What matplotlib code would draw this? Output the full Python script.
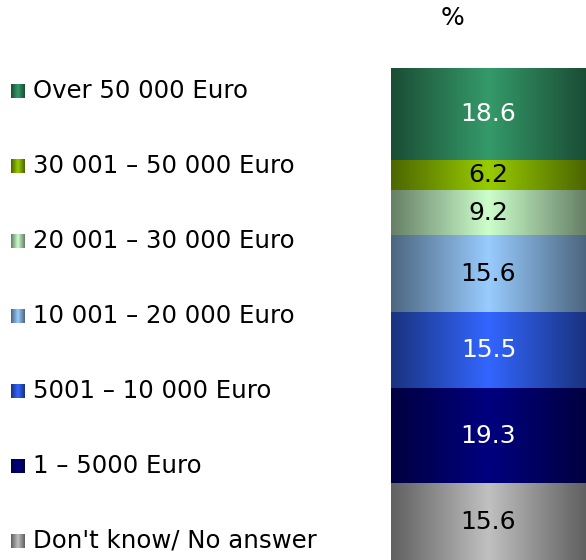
import numpy as np
import matplotlib.pyplot as plt

# income brackets, bottom of the stack first
categories = ["Don't know/ No answer", "1 \u2013 5000 Euro", "5001 \u2013 10 000 Euro",
              "10 001 \u2013 20 000 Euro", "20 001 \u2013 30 000 Euro",
              "30 001 \u2013 50 000 Euro", "Over 50 000 Euro"]
values = [15.6, 19.3, 15.5, 15.6, 9.2, 6.2, 18.6]
colors = ["#c0c0c0", "#000080", "#3366ff", "#99ccff", "#ccffcc", "#99cc00", "#359a6a"]
label_colors = ["black", "white", "white", "black", "black", "black", "white"]

W, H = 586, 560
plt.rcParams['font.family'] = ['DejaVu Sans']
fig = plt.figure(figsize=(W / 100, H / 100), dpi=100)


def gradient(color, n=256):
    """Horizontal strip: half-intensity at the edges, full colour in the middle."""
    c = np.array(plt.matplotlib.colors.to_rgb(color))
    t = np.abs(np.linspace(-1, 1, n))
    f = 1 - 0.5 * t
    return (f[:, None] * c[None, :])[None, :, :]


# the stacked bar
ax = fig.add_axes([391 / W, 0, 195 / W, 492 / H])
ax.set_xlim(0, 1)
ax.set_ylim(0, 100)
ax.axis('off')
bottoms = np.concatenate([[0], np.cumsum(values)[:-1]])
bars = ax.bar(0.5, values, width=1, bottom=bottoms, color='none', edgecolor='none')
for bar, col, val, tc in zip(bars, colors, values, label_colors):
    x0, y0 = bar.get_x(), bar.get_y()
    w, h = bar.get_width(), bar.get_height()
    im = ax.imshow(gradient(col), extent=[x0, x0 + w, y0, y0 + h],
                   aspect='auto', interpolation='bilinear', zorder=1)
    im.set_clip_path(bar)
    ax.text(x0 + w / 2, y0 + h / 2, f"{val:.1f}", ha='center', va='center',
            fontsize=18, color=tc, zorder=3)

# legend and title drawn in pixel coordinates
lax = fig.add_axes([0, 0, 1, 1])
lax.set_xlim(0, W)
lax.set_ylim(H, 0)
lax.axis('off')
lax.text(453, 18, "%", ha='center', va='center', fontsize=18)
ys = np.linspace(91, 541, len(categories))
for y, cat, col in zip(ys, categories[::-1], colors[::-1]):
    lax.imshow(gradient(col, 32), extent=[11, 25, y + 7, y - 7],
               aspect='auto', interpolation='bilinear')
    lax.text(33, y, cat, ha='left', va='center', fontsize=17.6)
lax.set_xlim(0, W)
lax.set_ylim(H, 0)

fig.savefig("out.png", dpi=100)
